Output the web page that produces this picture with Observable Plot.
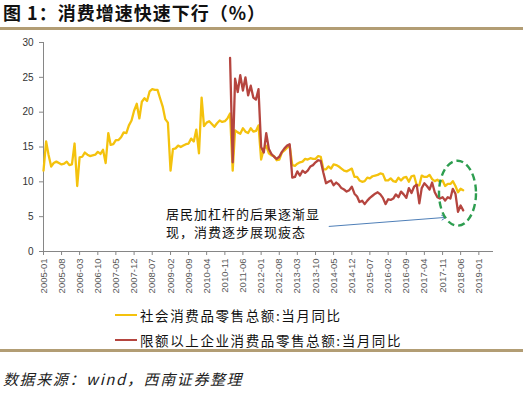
<!DOCTYPE html>
<html><head><meta charset="utf-8">
<script src="https://cdn.jsdelivr.net/npm/d3@7"></script>
<script src="https://cdn.jsdelivr.net/npm/@observablehq/plot@0.6"></script>
<style>
body{margin:0;background:#fff;}
#wrap{position:relative;width:523px;height:393px;overflow:hidden;font-family:"Noto Sans CJK SC","Noto Sans",sans-serif;color:#111;}
#title{position:absolute;left:3px;top:-1px;font-size:18px;font-weight:bold;white-space:nowrap;letter-spacing:1px;}
.bar{position:absolute;left:0;width:523px;height:3px;background:#B29D74;}
#chart{position:absolute;left:0;top:30px;}
.leg{position:absolute;left:115px;height:18px;display:flex;align-items:center;font-size:13.5px;letter-spacing:1.6px;white-space:nowrap;color:#111;}
.leg span.sw{display:inline-block;width:22px;height:2.5px;margin-right:3px;}
#cap{position:absolute;left:3px;top:368px;font-size:15px;font-style:italic;letter-spacing:1.6px;white-space:nowrap;color:#222;}
</style></head>
<body>
<div id="wrap">
  <div id="title">图 1：消费增速快速下行（%）</div>
  <div class="bar" style="top:27px"></div>
  <div id="chart"></div>
  <div class="leg" style="top:306px"><span class="sw" style="background:#F4C20D"></span><span id="l1"></span></div>
  <div class="leg" style="top:331px"><span class="sw" style="background:#B5453F"></span><span id="l2"></span></div>
  <div class="bar" style="top:349px"></div>
  <div id="cap">数据来源：wind，西南证券整理</div>
</div>
<script>
// ---- data ----
const seriesNames = ["社会消费品零售总额:当月同比", "限额以上企业消费品零售总额:当月同比"];
const seriesColors = ["#F4C20D", "#B5453F"];
// monthly, starting 2005-01
const retailStart = [2005, 0];
const retailYoY = [
  11.6, 15.8, 13.9, 12.2, 12.7, 12.9, 12.7, 12.5, 12.6, 12.9, 12.4, 12.5,
  15.5, 9.4, 13.5, 13.6, 14.2, 13.9, 13.7, 13.8, 13.9, 14.3, 14.0, 14.6,
  12.7, 17.0, 15.3, 15.4, 16.0, 16.0, 16.4, 17.1, 17.0, 18.1, 18.8, 20.2,
  21.2, 19.1, 21.5, 22.0, 21.6, 23.0, 23.3, 23.2, 23.2, 22.0, 20.8, 19.0,
  18.5, 11.6, 14.7, 14.8, 15.2, 15.0, 15.2, 15.4, 15.5, 16.2, 15.8, 17.5,
  14.1, 22.1, 18.0, 18.5, 18.7, 18.3, 17.9, 18.4, 18.8, 18.6, 18.7, 19.1,
  19.8, 11.6, 17.4, 17.1, 16.9, 17.7, 17.2, 17.0, 17.7, 17.2, 17.3, 18.1,
  13.2, 14.7, 15.2, 14.1, 13.8, 13.7, 13.1, 13.2, 14.2, 14.5, 14.9, 15.2,
  12.4, 12.3, 12.6, 12.8, 12.9, 13.3, 13.2, 13.4, 13.3, 13.3, 13.7, 13.6,
  11.8, 11.8, 12.2, 11.9, 12.5, 12.4, 12.2, 11.9, 11.6, 11.5, 11.7, 11.9,
  10.7, 10.7, 10.2, 10.0, 10.1, 10.6, 10.5, 10.8, 10.9, 11.0, 11.2, 11.1,
  10.2, 10.2, 10.5, 10.1, 10.0, 10.6, 10.2, 10.6, 10.7, 10.0, 10.8, 10.9,
  9.5, 9.5, 10.9, 10.7, 10.7, 11.0, 10.4, 10.1, 10.3, 10.0, 10.2, 9.4,
  9.7, 9.7, 10.1, 9.4, 8.5, 9.0, 8.8
];
// monthly, starting 2011-01
const aboveStart = [2011, 0];
const aboveQuotaYoY = [
  27.8, 12.8, 24.8, 22.9, 25.3, 23.1, 25.0, 22.4, 23.8, 22.1, 21.8, 23.3,
  15.0, 14.2, 17.0, 14.7, 14.0, 13.6, 13.3, 13.6, 14.3, 14.8, 15.2, 15.4,
  10.6, 10.7, 11.5, 10.9, 11.6, 11.3, 11.6, 12.2, 12.4, 12.8, 13.1, 13.0,
  11.3, 9.8, 10.0, 10.2, 9.5, 9.9, 9.6, 9.1, 8.9, 8.6, 8.8, 9.3,
  8.3, 7.9, 7.1, 7.3, 6.8, 7.3, 7.7, 8.0, 8.3, 8.5, 8.2, 7.7,
  6.8, 7.5, 7.4, 7.6, 8.2, 7.8, 8.6, 8.2, 7.7, 9.1, 8.4, 9.3,
  9.6, 6.9, 9.1, 9.8, 9.4, 8.9, 9.9, 8.5, 7.8, 7.6, 7.8, 7.3,
  7.8, 7.6, 9.0, 8.3, 5.7, 6.6, 5.9
];
const xTickLabels = ["2005-01","2005-08","2006-03","2006-10","2007-05","2007-12","2008-07","2009-02","2009-09","2010-04","2010-11","2011-06","2012-01","2012-08","2013-03","2013-10","2014-05","2014-12","2015-07","2016-02","2016-09","2017-04","2017-11","2018-06","2019-01"];
const yTicks = [0, 5, 10, 15, 20, 25, 30];
const annotationText = "居民加杠杆的后果逐渐显\n现，消费逐步展现疲态";
const annotationAt = {date: "2008-12-10", value: 4.2};
const arrowFrom = {date: "2014-03-10", value: 3.6};
const arrowTo = {date: "2017-12-10", value: 4.9};
const ellipseAt = {date: "2018-05-01", value: 8.3};

// ---- build ----
const parseM = d3.utcParse("%Y-%m");
const rows = [];
retailYoY.forEach((v, i) => rows.push({date: new Date(Date.UTC(retailStart[0], retailStart[1] + i, 1)), value: v, series: seriesNames[0]}));
aboveQuotaYoY.forEach((v, i) => rows.push({date: new Date(Date.UTC(aboveStart[0], aboveStart[1] + i, 1)), value: v, series: seriesNames[1]}));
const tickDates = xTickLabels.map(parseM);
const x0 = new Date(Date.UTC(2005, 0, 1)), x1 = new Date(Date.UTC(2019, 5, 22));

const chart = Plot.plot({
  width: 523, height: 280,
  marginTop: 12, marginBottom: 59, marginLeft: 43, marginRight: 30,
  style: {fontFamily: "'Liberation Sans', Arial, sans-serif", background: "transparent"},
  x: {type: "utc", domain: [x0, x1]},
  y: {domain: [0, 30]},
  color: {domain: seriesNames, range: seriesColors},
  marks: [
    Plot.axisY({ticks: yTicks, tickSize: 4, tickPadding: 6, fontSize: 10, fill: "#333", stroke: "#868686", label: null}),
    Plot.axisX({ticks: tickDates, tickFormat: d3.utcFormat("%Y-%m"), tickRotate: -90, tickSize: 4, tickPadding: 3, fontSize: 9.5, fill: "#595959", stroke: "#868686", label: null}),
    Plot.ruleX([x0], {y1: 0, y2: 30, stroke: "#868686"}),
    Plot.ruleY([0], {stroke: "#868686"}),
    Plot.line(rows, {x: "date", y: "value", z: "series", stroke: "series", strokeWidth: 2.3, curve: "linear"}),
    Plot.text([annotationAt], {x: d => new Date(d.date), y: "value", text: () => annotationText, textAnchor: "start", lineAnchor: "middle", lineHeight: 1.35, fontSize: 13, fill: "#111", fontFamily: "'Noto Sans CJK SC', sans-serif"}),
    Plot.arrow([{a: arrowFrom, b: arrowTo}], {x1: d => new Date(d.a.date), y1: d => d.a.value, x2: d => new Date(d.b.date), y2: d => d.b.value, stroke: "#4F7FB8", strokeWidth: 1, headLength: 7, bend: 0})
  ]
});
document.getElementById("chart").appendChild(chart);
d3.select(chart).selectAll("text").filter(function(){ return this.textContent.includes("居民") || this.textContent.includes("疲态"); }).style("letter-spacing", "1px");

// dashed ellipse annotation, positioned through the chart's scales
const sx = chart.scale("x"), sy = chart.scale("y");
const cx = sx.apply(new Date(ellipseAt.date)), cy = sy.apply(ellipseAt.value);
d3.select(chart).append("ellipse")
  .attr("cx", cx).attr("cy", cy).attr("rx", 18.5).attr("ry", 32.5)
  .attr("fill", "none").attr("stroke", "#2E9E50").attr("stroke-width", 2.4)
  .attr("stroke-dasharray", "7,4");

document.getElementById("l1").textContent = seriesNames[0];
document.getElementById("l2").textContent = seriesNames[1];
</script>
</body></html>
